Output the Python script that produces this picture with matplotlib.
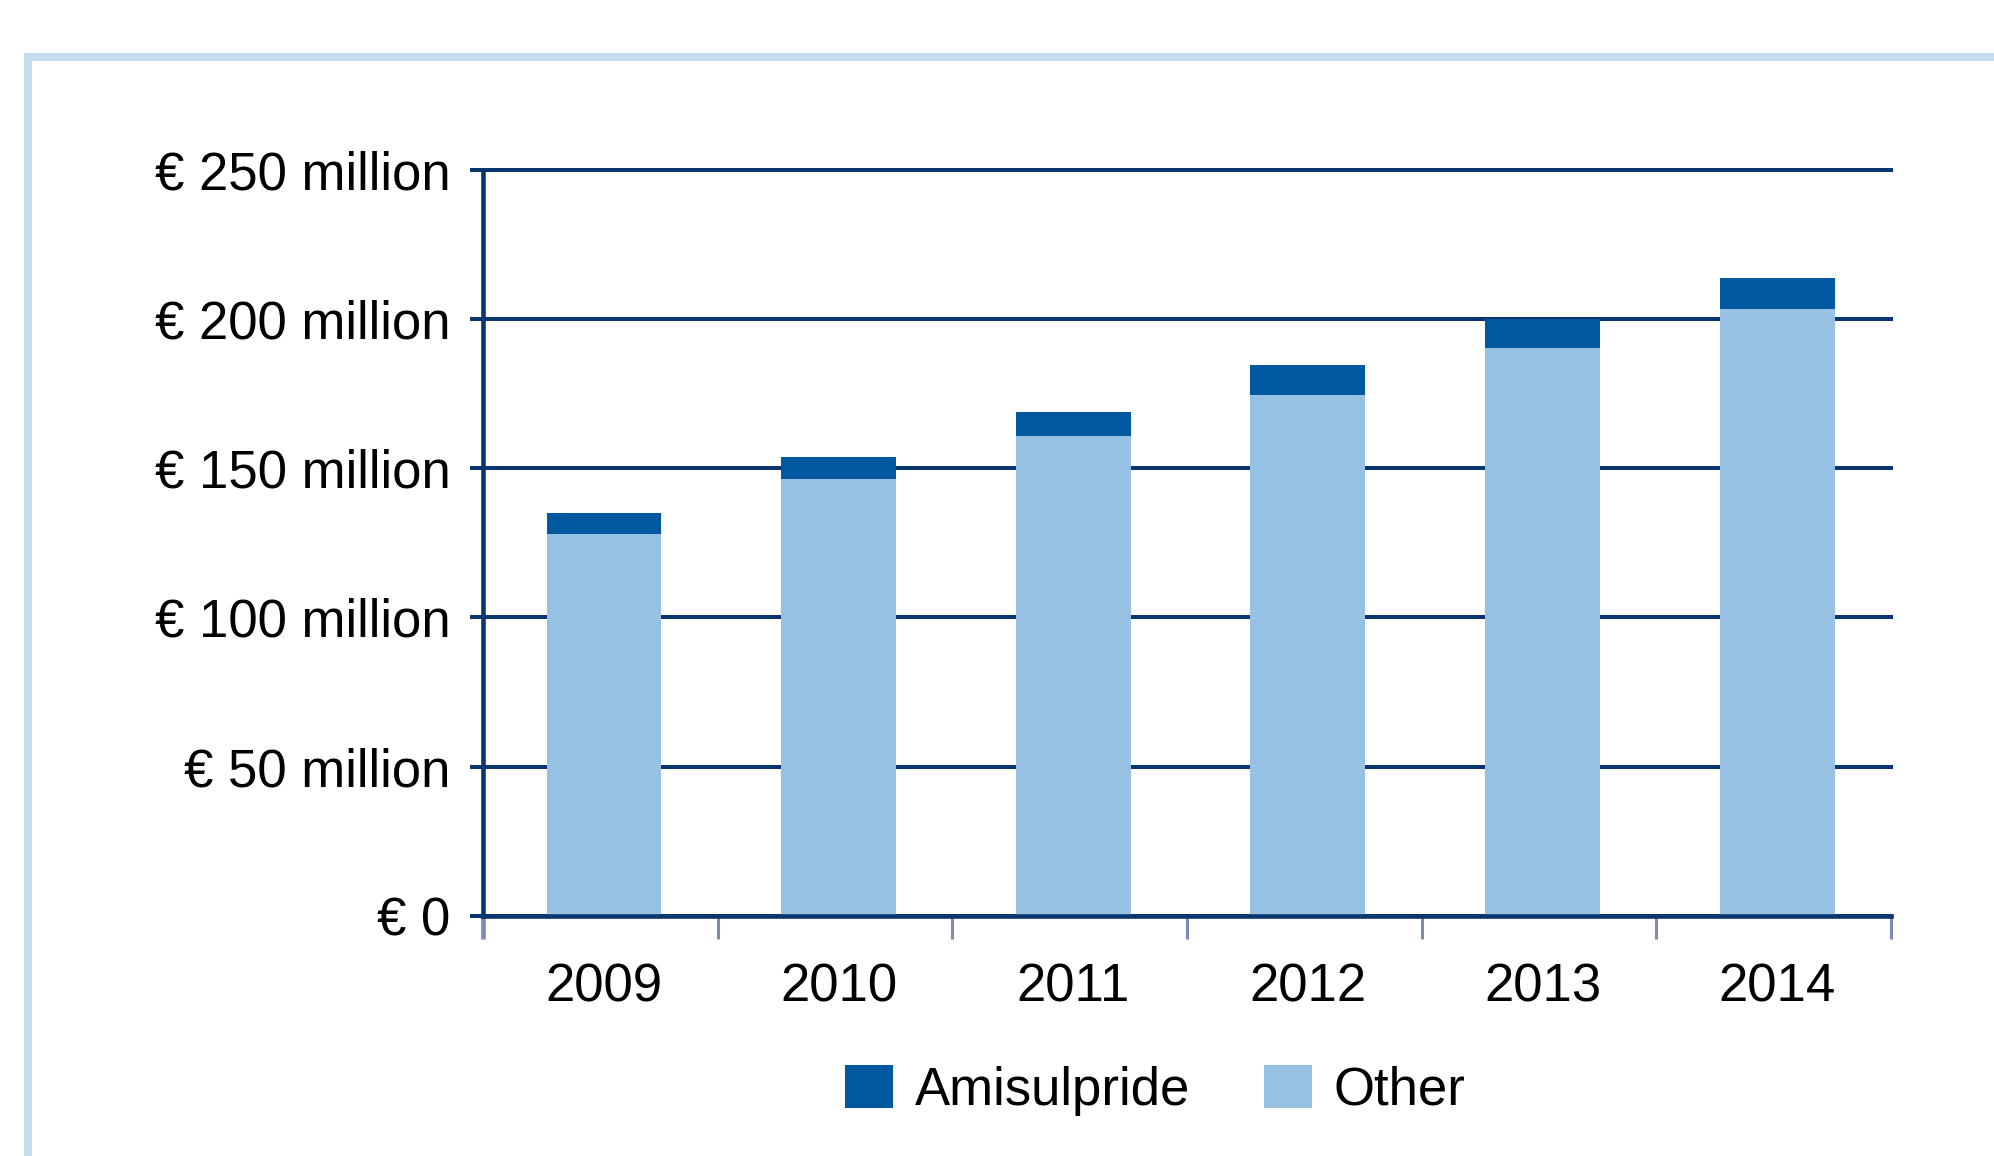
import matplotlib
matplotlib.use('Agg')
import matplotlib.pyplot as plt
from matplotlib.patches import Rectangle
from matplotlib.ticker import FixedLocator

plt.rcParams['font.family'] = ['Liberation Sans', 'DejaVu Sans']

years = ['2009', '2010', '2011', '2012', '2013', '2014']
other = [128, 146.5, 161, 174.5, 190.5, 203.5]
amisulpride = [7, 7.3, 8, 10.2, 9.8, 10.5]
y_ticks = [0, 50, 100, 150, 200, 250]
y_labels = ['€ 0', '€ 50 million', '€ 100 million', '€ 150 million',
            '€ 200 million', '€ 250 million']

navy = '#0a3670'
dark = '#0058a1'
light = '#96c1e2'
tick_grey = '#7d8ab5'

fig = plt.figure(figsize=(19.94, 11.56), dpi=100)
ax = fig.add_axes([0.2423, 0.208, 0.7061, 0.6446])

x = list(range(len(years)))
# bars sit a touch right of the category centre in the original
xb = [i + 0.015 for i in x]
ax.bar(xb, other, width=0.49, color=light, label='Other', zorder=3)
ax.bar(xb, amisulpride, width=0.49, bottom=other, color=dark,
       label='Amisulpride', zorder=3)

ax.set_xlim(-0.5, 5.5)
ax.set_ylim(0, 250)

ax.set_axisbelow(True)
ax.yaxis.grid(True, color=navy, linewidth=2.9)
for ln in ax.get_ygridlines():
    ln.set_clip_on(False)

for s in ['top', 'right']:
    ax.spines[s].set_visible(False)
ax.spines['left'].set_color(navy)
ax.spines['left'].set_linewidth(3.3)
ax.spines['bottom'].set_color(navy)
ax.spines['bottom'].set_linewidth(3.3)
ax.spines['bottom'].set_zorder(4)

ax.yaxis.set_major_locator(FixedLocator(y_ticks))
ax.set_yticklabels(y_labels)
ax.tick_params(axis='y', direction='out', length=9.4, width=2.9,
               color=navy, pad=14, labelsize=38, labelcolor='black')

ax.set_xticks(xb)
ax.set_xticklabels(years)
ax.tick_params(axis='x', which='major', length=0, pad=34, labelsize=38)
ax.xaxis.set_minor_locator(FixedLocator([i - 0.5 for i in range(len(years) + 1)]))
ax.tick_params(axis='x', which='minor', direction='out', length=16.5,
               width=2.2, color=tick_grey)
first = ax.xaxis.get_minor_ticks()[0]
first.tick1line.set_color(navy)
first.tick1line.set_markeredgewidth(3.3)

handles, labels = ax.get_legend_handles_labels()
leg = fig.legend(handles[::-1], labels[::-1], loc='center',
                 bbox_to_anchor=(0.5795, 0.057), ncol=2, frameon=False,
                 fontsize=38, handlelength=0.9, handleheight=0.9,
                 handletextpad=0.42, columnspacing=1.4)

fig.patches.append(Rectangle((0.014, -0.2), 1.2, 0.9507 + 0.2,
                             transform=fig.transFigure, fill=False,
                             edgecolor='#c6dcef', linewidth=5.8))

fig.savefig('out.png', dpi=100)
